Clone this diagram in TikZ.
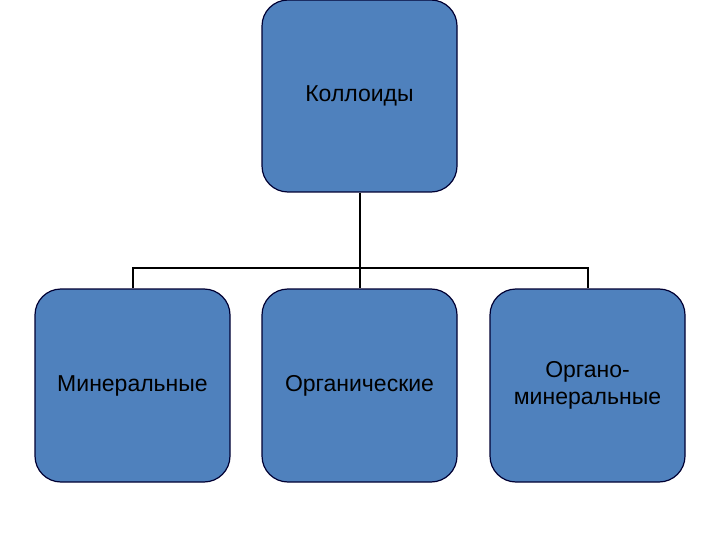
\documentclass[tikz,border=0pt]{standalone}
\usepackage{fontspec}
\setmainfont{Liberation Sans}
\begin{document}
\begin{tikzpicture}[x=1pt,y=-1pt,
  box/.style={draw=black!80!blue,line width=1.2pt,fill={rgb,255:red,79;green,129;blue,189},rounded corners=26pt,minimum width=195pt,minimum height=192pt,align=center,font=\fontsize{23}{27}\selectfont,inner sep=0pt},
  conn/.style={line width=2pt}]
\useasboundingbox (0,0) rectangle (720,540);
\node[box] (top) at (359.5,96) {Коллоиды};
\node[box,minimum height=193pt] (a) at (132.5,385.5) {Минеральные};
\node[box,minimum height=193pt] (b) at (359.5,385.5) {Органические};
\node[box,minimum height=193pt] (c) at (587.5,385.5) {Органо-\\минеральные};
\coordinate (j) at (359.5,268);
\draw[conn] (top.south) -- (j);
\draw[conn] (a.north) -- (a.north |- j) -- (c.north |- j) -- (c.north);
\draw[conn] (j) -- (b.north);
\end{tikzpicture}
\end{document}
